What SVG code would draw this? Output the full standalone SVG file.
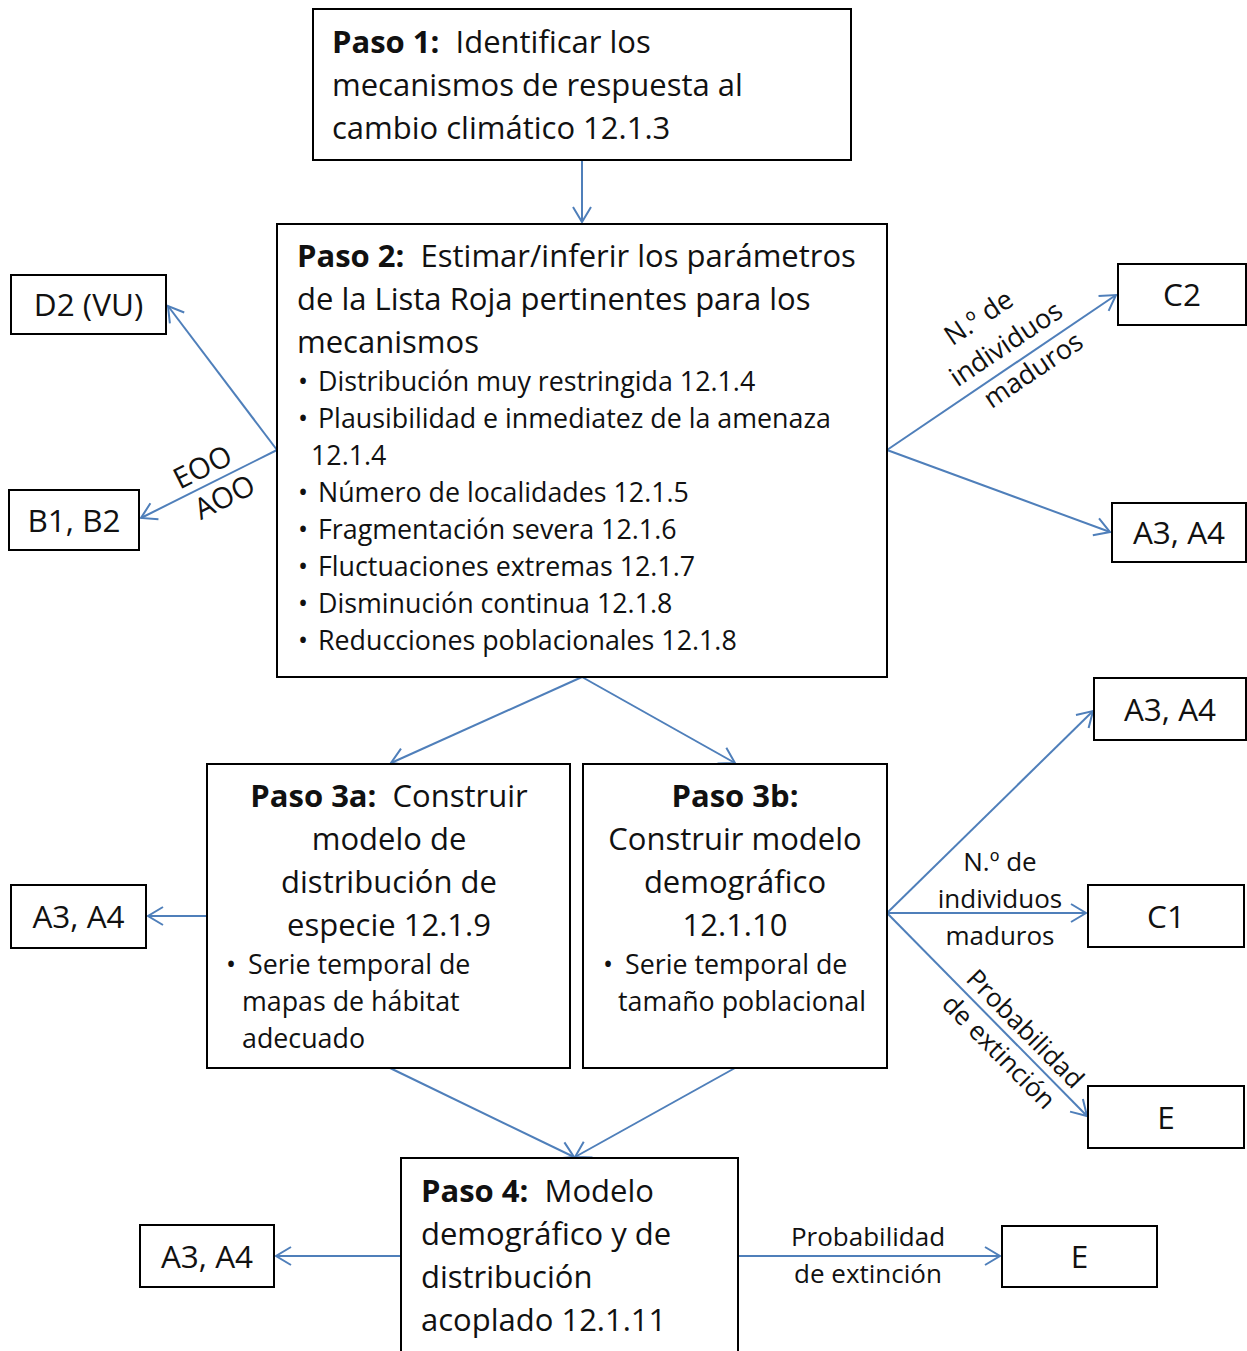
<svg xmlns="http://www.w3.org/2000/svg" width="1247" height="1351" viewBox="0 0 1247 1351">
<style>
  .box { fill: #ffffff; stroke: #000000; stroke-width: 2; }
  .t { font-family: "Open Sans", "Liberation Sans", sans-serif; font-size: 31px; fill: #111111; }
  .b { font-weight: bold; }
  .s { font-family: "Open Sans", "Liberation Sans", sans-serif; font-size: 26.8px; fill: #111111; }
  .lbl { font-family: "Open Sans", "Liberation Sans", sans-serif; font-size: 31.5px; fill: #111111; text-anchor: middle; }
  .el { font-family: "Open Sans", "Liberation Sans", sans-serif; font-size: 26px; fill: #111111; text-anchor: middle; }
  .c { text-anchor: middle; }
  .con { stroke: #4f7fba; stroke-width: 2; fill: none; marker-end: url(#arr); }
</style>
<defs>
  <marker id="arr" viewBox="0 0 22 22" refX="20" refY="11" markerWidth="22" markerHeight="22" markerUnits="userSpaceOnUse" orient="auto">
    <path d="M5,2 L20,11 L5,20" fill="none" stroke="#4f7fba" stroke-width="2"/>
  </marker>
</defs>
<rect width="1247" height="1351" fill="#ffffff"/>

<g id="connectors">
  <line class="con" x1="582" y1="160" x2="582" y2="222"/>
  <line class="con" x1="277" y1="450" x2="168" y2="306"/>
  <line class="con" x1="277" y1="450" x2="141" y2="518"/>
  <line class="con" x1="887" y1="450" x2="1116" y2="295"/>
  <line class="con" x1="887" y1="450" x2="1110" y2="532"/>
  <line class="con" x1="582" y1="677" x2="391" y2="763"/>
  <line class="con" x1="582" y1="677" x2="735" y2="763"/>
  <line class="con" x1="207" y1="916" x2="148" y2="916"/>
  <line class="con" x1="887" y1="913" x2="1093" y2="711"/>
  <line class="con" x1="887" y1="913" x2="1086" y2="913"/>
  <line class="con" x1="887" y1="913" x2="1087" y2="1116"/>
  <line class="con" x1="390" y1="1068" x2="574" y2="1157"/>
  <line class="con" x1="735" y1="1068" x2="575" y2="1157"/>
  <line class="con" x1="401" y1="1256" x2="276" y2="1256"/>
  <line class="con" x1="738" y1="1256" x2="1000" y2="1256"/>

  <g transform="translate(203,468) rotate(-26.6)"><text class="el" style="font-size:29px" x="0" y="9">EOO</text></g>
  <g transform="translate(225,498) rotate(-26.6)"><text class="el" style="font-size:29px" x="0" y="9">AOO</text></g>

  <g transform="translate(1006,344) rotate(-34)">
    <text class="el" style="font-size:27px" x="-8" y="-28">N.º de</text>
    <text class="el" style="font-size:27px" x="0" y="9">individuos</text>
    <text class="el" style="font-size:27px" x="8" y="46">maduros</text>
  </g>

  <text class="el" x="1000" y="871">N.º de</text>
  <text class="el" x="1000" y="908">individuos</text>
  <text class="el" x="1000" y="945">maduros</text>

  <g transform="translate(1011,1040) rotate(45.4)">
    <text class="el" x="2" y="-9">Probabilidad</text>
    <text class="el" x="0" y="26">de extinción</text>
  </g>

  <text class="el" x="868" y="1246">Probabilidad</text>
  <text class="el" x="868" y="1283">de extinción</text>
</g>

<g id="paso1">
  <rect class="box" x="313" y="9" width="538" height="151"/>
  <text class="t" x="332" y="53" xml:space="preserve"><tspan class="b">Paso 1:</tspan>  Identificar los</text>
  <text class="t" x="332" y="96">mecanismos de respuesta al</text>
  <text class="t" x="332" y="139">cambio climático 12.1.3</text>
</g>

<g id="paso2">
  <rect class="box" x="277" y="224" width="610" height="453"/>
  <text class="t" x="297" y="267" xml:space="preserve"><tspan class="b">Paso 2:</tspan>  Estimar/inferir los parámetros</text>
  <text class="t" x="297" y="310">de la Lista Roja pertinentes para los</text>
  <text class="t" x="297" y="353">mecanismos</text>
  <text class="s" x="298" y="391">•</text><text class="s" x="318" y="391">Distribución muy restringida 12.1.4</text>
  <text class="s" x="298" y="428">•</text><text class="s" x="318" y="428">Plausibilidad e inmediatez de la amenaza</text>
  <text class="s" x="311" y="465">12.1.4</text>
  <text class="s" x="298" y="502">•</text><text class="s" x="318" y="502">Número de localidades 12.1.5</text>
  <text class="s" x="298" y="539">•</text><text class="s" x="318" y="539">Fragmentación severa 12.1.6</text>
  <text class="s" x="298" y="576">•</text><text class="s" x="318" y="576">Fluctuaciones extremas 12.1.7</text>
  <text class="s" x="298" y="613">•</text><text class="s" x="318" y="613">Disminución continua 12.1.8</text>
  <text class="s" x="298" y="650">•</text><text class="s" x="318" y="650">Reducciones poblacionales 12.1.8</text>
</g>

<g id="d2vu">
  <rect class="box" x="11" y="275" width="155" height="59"/>
  <text class="lbl" x="88.5" y="316">D2 (VU)</text>
</g>
<g id="b1b2">
  <rect class="box" x="9" y="490" width="130" height="60"/>
  <text class="lbl" x="74" y="532">B1, B2</text>
</g>
<g id="c2">
  <rect class="box" x="1118" y="264" width="128" height="61"/>
  <text class="lbl" x="1182" y="306">C2</text>
</g>
<g id="a3a4-r1">
  <rect class="box" x="1112" y="503" width="134" height="59"/>
  <text class="lbl" x="1179" y="544">A3, A4</text>
</g>

<g id="paso3a">
  <rect class="box" x="207" y="764" width="363" height="304"/>
  <text class="t c" x="389" y="807" xml:space="preserve"><tspan class="b">Paso 3a:</tspan>  Construir</text>
  <text class="t c" x="389" y="850">modelo de</text>
  <text class="t c" x="389" y="893">distribución de</text>
  <text class="t c" x="389" y="936">especie 12.1.9</text>
  <text class="s" x="226" y="974">•</text><text class="s" x="248" y="974">Serie temporal de</text>
  <text class="s" x="242" y="1011">mapas de hábitat</text>
  <text class="s" x="242" y="1048">adecuado</text>
</g>

<g id="paso3b">
  <rect class="box" x="583" y="764" width="304" height="304"/>
  <text class="t c b" x="735" y="807">Paso 3b:</text>
  <text class="t c" x="735" y="850">Construir modelo</text>
  <text class="t c" x="735" y="893">demográfico</text>
  <text class="t c" x="735" y="936">12.1.10</text>
  <text class="s" x="603" y="974">•</text><text class="s" x="625" y="974">Serie temporal de</text>
  <text class="s" x="618" y="1011">tamaño poblacional</text>
</g>

<g id="a3a4-l">
  <rect class="box" x="11" y="885" width="135" height="63"/>
  <text class="lbl" x="78.5" y="928">A3, A4</text>
</g>
<g id="a3a4-r2">
  <rect class="box" x="1094" y="678" width="152" height="62"/>
  <text class="lbl" x="1170" y="721">A3, A4</text>
</g>
<g id="c1">
  <rect class="box" x="1088" y="885" width="156" height="62"/>
  <text class="lbl" x="1166" y="928">C1</text>
</g>
<g id="e1">
  <rect class="box" x="1088" y="1086" width="156" height="62"/>
  <text class="lbl" x="1166" y="1129">E</text>
</g>

<g id="paso4">
  <rect class="box" x="401" y="1158" width="337" height="200"/>
  <text class="t" x="421" y="1202" xml:space="preserve"><tspan class="b">Paso 4:</tspan>  Modelo</text>
  <text class="t" x="421" y="1245">demográfico y de</text>
  <text class="t" x="421" y="1288">distribución</text>
  <text class="t" x="421" y="1331">acoplado 12.1.11</text>
</g>
<g id="a3a4-b">
  <rect class="box" x="140" y="1225" width="134" height="62"/>
  <text class="lbl" x="207" y="1268">A3, A4</text>
</g>
<g id="e2">
  <rect class="box" x="1002" y="1226" width="155" height="61"/>
  <text class="lbl" x="1079.5" y="1268">E</text>
</g>
</svg>
